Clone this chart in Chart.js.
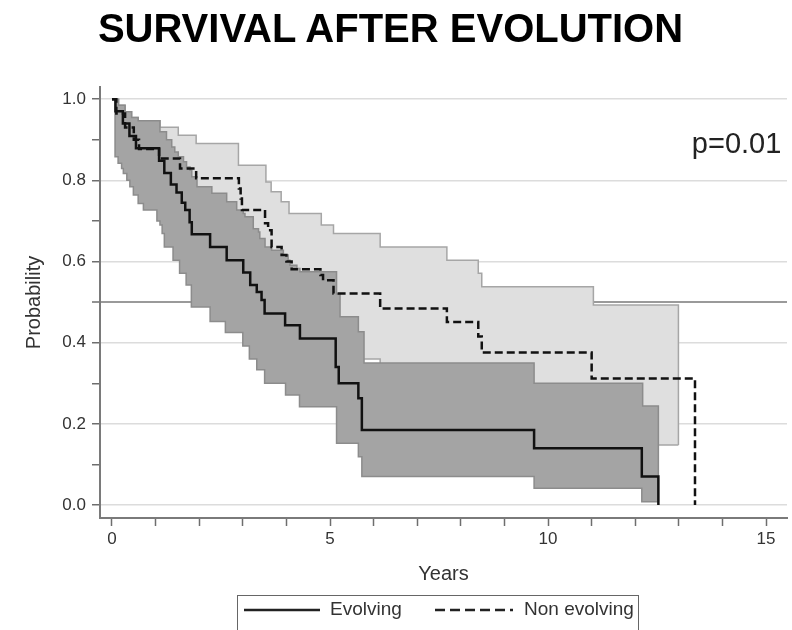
<!DOCTYPE html>
<html>
<head>
<meta charset="utf-8">
<title>Survival after evolution</title>
<script src="https://cdn.jsdelivr.net/npm/chart.js@4.4.1/dist/chart.umd.min.js"></script>
<style>
  html, body { margin: 0; padding: 0; background: #fff; }
  body { width: 792px; height: 630px; position: relative; overflow: hidden; font-family: 'Liberation Sans', Arial, sans-serif; }
  #chart { position: absolute; left: 0; top: 0; }
  #title { position: absolute; left: 0; top: 4px; width: 781px; text-align: center; font-size: 40px; line-height: 48px; font-weight: bold; color: #000; }
  #legend { position: absolute; left: 237px; top: 595px; width: 402px; height: 44px; border: 1.5px solid #666; box-sizing: border-box; font-size: 19px; color: #333; }
  #legend svg { position: absolute; top: 12px; }
  #legend span { position: absolute; top: 1px; line-height: 24px; white-space: nowrap; }
</style>
</head>
<body>
<canvas id="chart" width="792" height="630"></canvas>
<div id="title">SURVIVAL AFTER EVOLUTION</div>
<div id="legend">
  <svg style="left:6px" width="76" height="4"><line x1="0" y1="2" x2="76" y2="2" stroke="#222" stroke-width="2.5"/></svg>
  <span style="left:92px">Evolving</span>
  <svg style="left:197px" width="78" height="4"><line x1="0" y1="2" x2="78" y2="2" stroke="#222" stroke-width="2.5" stroke-dasharray="10 5"/></svg>
  <span style="left:286px">Non evolving</span>
</div>
<script>
// Kaplan-Meier curves: time in years, survival probability after each step
const evolvingTime = [0, 0.08, 0.25, 0.40, 0.55, 1.08, 1.20, 1.35, 1.48, 1.60, 1.68, 1.78, 1.83, 2.25, 2.63, 3.01, 3.17, 3.32, 3.43, 3.50, 3.97, 4.31, 5.13, 5.20, 5.65, 5.73, 9.68, 12.15, 12.53];
const evolvingSurv = [1.0, 0.97, 0.94, 0.909, 0.879, 0.848, 0.818, 0.79, 0.77, 0.745, 0.727, 0.697, 0.667, 0.636, 0.603, 0.573, 0.542, 0.525, 0.505, 0.472, 0.443, 0.41, 0.34, 0.30, 0.263, 0.185, 0.14, 0.07, 0];

const evolvingUpperTime = [0, 0.15, 0.30, 0.45, 0.60, 1.10, 1.25, 1.37, 1.44, 1.52, 1.64, 1.71, 1.79, 1.83, 1.95, 2.29, 2.63, 2.86, 3.01, 3.05, 3.24, 3.36, 3.39, 3.51, 3.66, 3.93, 4.04, 4.08, 4.24, 4.31, 5.15, 5.23, 5.65, 5.78, 9.68, 12.17, 12.53];
const evolvingUpper = [1.0, 0.985, 0.969, 0.955, 0.947, 0.92, 0.90, 0.882, 0.87, 0.858, 0.846, 0.833, 0.825, 0.809, 0.784, 0.768, 0.747, 0.727, 0.718, 0.71, 0.681, 0.673, 0.657, 0.636, 0.628, 0.616, 0.603, 0.591, 0.583, 0.575, 0.52, 0.464, 0.427, 0.35, 0.30, 0.244, 0.008];

const evolvingLowerTime = [0, 0.07, 0.14, 0.22, 0.26, 0.34, 0.41, 0.49, 0.60, 0.72, 1.03, 1.10, 1.15, 1.20, 1.40, 1.55, 1.70, 1.82, 2.25, 2.60, 3.00, 3.15, 3.32, 3.50, 3.98, 4.30, 5.15, 5.65, 5.73, 9.68, 12.15, 12.53];
const evolvingLower = [1.0, 0.858, 0.842, 0.829, 0.817, 0.80, 0.784, 0.764, 0.743, 0.727, 0.70, 0.69, 0.669, 0.636, 0.603, 0.571, 0.542, 0.488, 0.452, 0.425, 0.392, 0.36, 0.333, 0.30, 0.271, 0.242, 0.152, 0.119, 0.07, 0.041, 0.008, 0.008];

const nonEvolvingTime = [0, 0.10, 0.30, 0.50, 0.62, 1.08, 1.56, 1.93, 2.91, 2.95, 2.98, 3.51, 3.58, 3.66, 3.89, 4.00, 4.12, 4.78, 4.84, 5.08, 6.15, 7.68, 8.40, 8.48, 11.00, 13.37];
const nonEvolvingSurv = [1.0, 0.965, 0.93, 0.90, 0.877, 0.854, 0.829, 0.805, 0.78, 0.755, 0.727, 0.694, 0.677, 0.636, 0.616, 0.60, 0.581, 0.567, 0.554, 0.521, 0.484, 0.451, 0.415, 0.376, 0.312, 0];

const nonEvolvingUpperTime = [0, 0.15, 0.30, 0.45, 0.60, 1.10, 1.52, 1.93, 2.90, 3.53, 3.65, 3.88, 4.06, 4.80, 5.08, 6.15, 7.68, 8.40, 8.48, 11.04, 12.99];
const nonEvolvingUpper = [1.0, 0.985, 0.969, 0.955, 0.947, 0.931, 0.911, 0.891, 0.837, 0.796, 0.772, 0.747, 0.718, 0.69, 0.669, 0.636, 0.603, 0.571, 0.538, 0.493, 0.148];

const nonEvolvingLowerTime = [0, 0.10, 0.30, 0.50, 0.62, 1.08, 1.56, 1.93, 2.91, 2.98, 3.51, 3.66, 3.89, 4.12, 4.84, 5.08, 6.15, 7.68, 8.48, 11.00, 12.99];
const nonEvolvingLower = [1.0, 0.87, 0.83, 0.80, 0.77, 0.74, 0.70, 0.67, 0.63, 0.58, 0.54, 0.48, 0.46, 0.43, 0.40, 0.36, 0.32, 0.29, 0.22, 0.148, 0.148];

const xTickValues = [0, 1, 2, 3, 4, 5, 6, 7, 8, 9, 10, 11, 12, 13, 14, 15];
const yTickValues = [0, 0.1, 0.2, 0.3, 0.4, 0.5, 0.6, 0.7, 0.8, 0.9, 1.0];
const pValueText = 'p=0.01';

const toPoints = (times, values) => times.map((t, i) => ({ x: t, y: values[i] }));

Chart.defaults.font.family = "'Liberation Sans', Arial, sans-serif";

// p-value printed in the upper right corner of the plot
const pValuePlugin = {
  id: 'pValue',
  afterDatasetsDraw(chart) {
    const { ctx, scales: { x, y } } = chart;
    ctx.save();
    ctx.font = "29px 'Liberation Sans', Arial, sans-serif";
    ctx.fillStyle = '#222';
    ctx.textAlign = 'right';
    ctx.textBaseline = 'alphabetic';
    ctx.fillText(pValueText, x.getPixelForValue(15.35), y.getPixelForValue(0.868));
    ctx.restore();
  }
};

const stepLine = {
  stepped: true,
  pointRadius: 0,
  pointHoverRadius: 0,
  tension: 0
};

new Chart(document.getElementById('chart').getContext('2d'), {
  type: 'line',
  data: {
    datasets: [
      { ...stepLine, label: 'Evolving', data: toPoints(evolvingTime, evolvingSurv),
        borderColor: '#111', borderWidth: 2.5, fill: false, order: 0 },
      { ...stepLine, label: 'Non evolving', data: toPoints(nonEvolvingTime, nonEvolvingSurv),
        borderColor: '#111', borderWidth: 2.5, borderDash: [8, 4], fill: false, order: 1 },
      // confidence bands: upper bound filled down to the lower bound that follows it
      { ...stepLine, label: 'Evolving upper', data: toPoints(evolvingUpperTime, evolvingUpper),
        borderColor: '#8c8c8c', borderWidth: 1.5, backgroundColor: '#a4a4a4', fill: '+1', order: 3 },
      { ...stepLine, label: 'Evolving lower', data: toPoints(evolvingLowerTime, evolvingLower),
        borderColor: '#8c8c8c', borderWidth: 1.5, fill: false, order: 2 },
      { ...stepLine, label: 'Non evolving upper', data: toPoints(nonEvolvingUpperTime, nonEvolvingUpper),
        borderColor: '#a6a6a6', borderWidth: 1.5, backgroundColor: '#dfdfdf', fill: '+1', order: 5 },
      { ...stepLine, label: 'Non evolving lower', data: toPoints(nonEvolvingLowerTime, nonEvolvingLower),
        borderColor: '#a6a6a6', borderWidth: 1.5, fill: false, order: 4 }
    ]
  },
  options: {
    responsive: false,
    animation: false,
    devicePixelRatio: 1,
    layout: { padding: { top: 87, right: 5, bottom: 44, left: 22 } },
    plugins: {
      legend: { display: false },
      title: { display: false },
      tooltip: { enabled: false }
    },
    scales: {
      x: {
        type: 'linear',
        min: -0.275,
        max: 15.48,
        afterBuildTicks: (scale) => { scale.ticks = xTickValues.map(v => ({ value: v })); },
        afterFit: (scale) => { scale.height = 68; },
        ticks: {
          autoSkip: false,
          maxRotation: 0,
          padding: 3,
          color: '#333',
          font: { size: 17 },
          callback: (v) => (v % 5 === 0 ? String(v) : '')
        },
        grid: { drawOnChartArea: false, drawTicks: true, tickLength: 8, tickColor: '#6e6e6e', tickWidth: 1.5 },
        border: { color: '#7a7a7a', width: 2 },
        title: { display: true, text: 'Years', color: '#333', font: { size: 20 }, padding: 0 }
      },
      y: {
        type: 'linear',
        min: -0.032,
        max: 1.03,
        afterBuildTicks: (scale) => { scale.ticks = yTickValues.map(v => ({ value: v })); },
        afterFit: (scale) => { scale.width = 78; },
        ticks: {
          autoSkip: false,
          padding: 6,
          color: '#333',
          font: { size: 17 },
          callback: (v) => (Math.round(v * 10) % 2 === 0 ? v.toFixed(1) : '')
        },
        grid: {
          color: (ctx) => {
            const tenth = Math.round(ctx.tick.value * 10);
            if (tenth === 5) return '#9a9a9a';
            return tenth % 2 === 0 ? '#dcdcdc' : 'rgba(0,0,0,0)';
          },
          lineWidth: (ctx) => (Math.round(ctx.tick.value * 10) === 5 ? 2 : 1.5),
          drawTicks: true,
          tickLength: 8,
          tickColor: '#6e6e6e',
          tickWidth: 1.5
        },
        border: { color: '#7a7a7a', width: 2 },
        title: { display: true, text: 'Probability', color: '#333', font: { size: 20 }, padding: 0 }
      }
    }
  },
  plugins: [pValuePlugin]
});
</script>
</body>
</html>
